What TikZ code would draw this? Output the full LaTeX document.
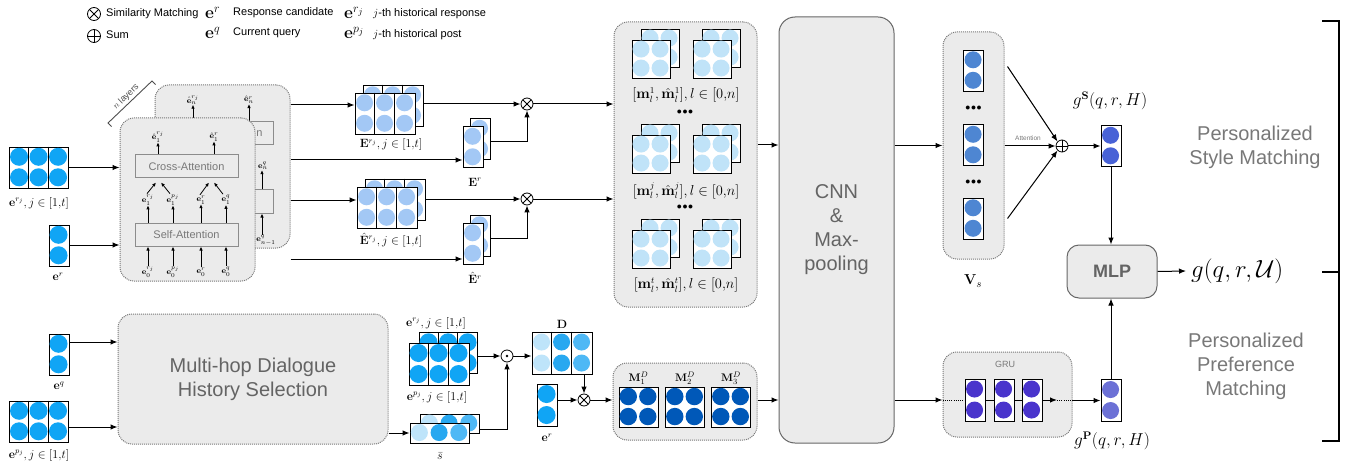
\documentclass[tikz,border=0pt]{standalone}
\usepackage[no-math]{fontspec}
\newfontfamily\hv{Liberation Sans}
\usetikzlibrary{arrows.meta,calc}
\definecolor{cin}{RGB}{16,165,245}
\definecolor{cE}{RGB}{163,200,245}
\definecolor{cM}{RGB}{192,227,248}
\definecolor{cV}{RGB}{78,134,210}
\definecolor{cGS}{RGB}{72,98,214}
\definecolor{cGRU}{RGB}{73,52,204}
\definecolor{cGP}{RGB}{108,113,214}
\definecolor{cMD}{RGB}{0,88,184}
\definecolor{cLa}{RGB}{190,228,250}
\definecolor{cLb}{RGB}{40,168,240}
\definecolor{cLc}{RGB}{78,184,245}
\definecolor{blkfill}{RGB}{235,235,235}
\definecolor{txtgray}{RGB}{100,100,100}
\definecolor{ltgray}{RGB}{120,120,120}
\newcommand\fsz[2]{\fontsize{#1}{#2}\selectfont}
\tikzset{
 arr/.style={line width=1pt,-{Latex[length=7pt,width=5.5pt]}},
 sarr/.style={line width=0.8pt,-{Latex[length=4pt,width=3.5pt]}},
 ln/.style={line width=1pt},
 dotln/.style={line width=1pt,dash pattern=on 1pt off 1.2pt},
 blk/.style={draw=ltgray,fill=blkfill,dash pattern=on 1pt off 1pt,line width=1pt,rounded corners=14pt,inner sep=0pt},
 solidblk/.style={draw=black!60,fill=blkfill,line width=1pt,rounded corners=16pt,inner sep=0pt},
 cell/.style={draw=black,fill=white,line width=0.9pt,inner sep=0pt},
 attbox/.style={draw=black!45,fill=blkfill,line width=1pt,inner sep=0pt,minimum width=103pt,minimum height=23pt,font={\hv\fsz{11}{13}},text=ltgray},
 lbl/.style={inner sep=0pt,font={\fsz{11.5}{13}}},
 tiny/.style={inner sep=0pt,font={\fsz{8.5}{9}}},
 opbase/.style={circle,draw,line width=0.8pt,minimum size=12pt,inner sep=0pt},
 otimesn/.style={opbase,path picture={\draw[line width=0.8pt] (path picture bounding box.north west) -- (path picture bounding box.south east) (path picture bounding box.north east) -- (path picture bounding box.south west);}},
 oplusn/.style={opbase,path picture={\draw[line width=0.8pt] (path picture bounding box.north) -- (path picture bounding box.south) (path picture bounding box.west) -- (path picture bounding box.east);}},
 odotn/.style={opbase,path picture={\fill (path picture bounding box.center) circle[radius=1.4pt];}},
 bigtxt/.style={font={\hv\fsz{20}{24}},text=txtgray,align=center,inner sep=0pt},
}
% name, x, y, cols, rows, cell w, cell h, radius, colour
\newcommand\mat[9]{%
  \node[cell,minimum width={#4*#6pt},minimum height={#5*#7pt}] (#1) at (#2,#3) {};
  \foreach \ci in {1,...,#4}{\foreach \ri in {1,...,#5}{%
    \fill[#9] ($(#1.north west)+({(\ci-0.5)*#6},{(\ri-0.5)*#7})$) circle[radius=#8pt];}}%
}
% name, cols, cell w
\newcommand\seps[3]{%
  \foreach \ci in {2,...,#2}{\draw[line width=0.9pt] ($(#1.north west)+({(\ci-1)*#3},0)$) -- ($(#1.south west)+({(\ci-1)*#3},0)$);}%
}
\begin{document}
\begin{tikzpicture}[x=1pt,y=-1pt]
\useasboundingbox (0,0) rectangle (1348,465);

% ---------- legend
\node[otimesn,minimum size=13pt] (lgA) at (94,14) {};
\node[anchor=west,inner sep=0pt,font={\hv\fsz{11}{13}}] (lgAt) at (106,14) {Similarity Matching};
\node[oplusn,minimum size=13pt] (lgB) at (94,36) {};
\node[anchor=west,inner sep=0pt,font={\hv\fsz{11}{13}}] (lgBt) at (106,35) {Sum};
\node[anchor=west,inner sep=0pt,font={\fsz{18}{18}}] (lgC) at (205,13) {$\mathbf{e}^{r}$};
\node[anchor=west,inner sep=0pt,font={\hv\fsz{11}{13}}] (lgCt) at (233,13) {Response candidate};
\node[anchor=west,inner sep=0pt,font={\fsz{18}{18}}] (lgD) at (205,33) {$\mathbf{e}^{q}$};
\node[anchor=west,inner sep=0pt,font={\hv\fsz{11}{13}}] (lgDt) at (233,33) {Current query};
\node[anchor=west,inner sep=0pt,font={\fsz{18}{18}}] (lgE) at (344,13) {$\mathbf{e}^{r_j}$};
\node[anchor=west,inner sep=0pt,font={\hv\fsz{11}{13}}] (lgEt) at (373,14) {$j$-th historical response};
\node[anchor=west,inner sep=0pt,font={\fsz{18}{18}}] (lgF) at (344,33) {$\mathbf{e}^{p_j}$};
\node[anchor=west,inner sep=0pt,font={\hv\fsz{11}{13}}] (lgFt) at (373,35) {$j$-th historical post};

% ---------- inputs (top)
\mat{inrj}{39}{167.5}{3}{2}{19.5}{20.5}{9}{cin}\seps{inrj}{3}{19.5}
\node[lbl] (inrjl) at (39,203) {$\mathbf{e}^{r_j}, j\in[1{,}t]$};
\mat{inr}{59}{245.5}{1}{2}{20}{20.5}{9}{cin}
\node[lbl] (inrl) at (58,277) {$\mathbf{e}^{r}$};

% ---------- attention blocks: back copy
\node[blk,minimum width=135pt,minimum height=163pt] (back) at (222.5,166.5) {};
\node[attbox] (bcross) at (221.5,133.5) {};
\node[inner sep=0pt,font={\hv\fsz{11}{13}},text=ltgray] (bcrossn) at (259.5,134) {n};
\node[attbox] (bself) at (221.5,201.5) {};
\node[tiny] (bh1) at (193,100) {$\hat{\mathbf{e}}_n^{r_j}$};
\node[tiny] (bh2) at (249,100) {$\hat{\mathbf{e}}_n^{r}$};
\draw[sarr] (bcross.north -| bh1) -- (bh1.south);
\draw[sarr] (bcross.north -| bh2) -- (bh2.south);
\node[tiny] (bq) at (263,166) {$\mathbf{e}_n^{q}$};
\draw[sarr] (bself.north -| 262,0) -- (bq.south -| 262,0);
\node[tiny] (bq0) at (266,240) {$\mathbf{e}_{n-1}^{q}$};
\draw[sarr] (bq0.north -| 262,0) -- (bself.south -| 262,0);

% front copy
\node[blk,minimum width=135pt,minimum height=163pt] (front) at (187.5,199.5) {};
\node[attbox] (cross) at (186.5,166.5) {Cross-Attention};
\node[attbox] (self) at (186.5,234.5) {Self-Attention};
\node[tiny] (h1) at (158,137) {$\hat{\mathbf{e}}_1^{r_j}$};
\node[tiny] (h2) at (214,137) {$\hat{\mathbf{e}}_1^{r}$};
\draw[sarr] (cross.north -| h1) -- (h1.south);
\draw[sarr] (cross.north -| h2) -- (h2.south);
\node[tiny] (m1) at (148,200) {$\mathbf{e}_1^{r_j}$};
\node[tiny] (m2) at (173,200) {$\mathbf{e}_1^{p_j}$};
\node[tiny] (m3) at (201,200) {$\mathbf{e}_1^{r}$};
\node[tiny] (m4) at (226,200) {$\mathbf{e}_1^{q}$};
\foreach \m in {m1,m2,m3,m4}{\draw[sarr] (self.north -| \m) -- (\m.south);}
\draw[sarr] ($(m1.north)+(-1,-1)$) -- ($(cross.south)+(-30.5,4)$);
\draw[sarr] ($(m2.north)+(-3,-1)$) -- ($(cross.south)+(-25.5,4)$);
\draw[sarr] ($(m3.north)+(-1,-1)$) -- ($(cross.south)+(22.5,4)$);
\draw[sarr] ($(m4.north)+(-3,-1)$) -- ($(cross.south)+(27.5,4)$);
\node[tiny] (z1) at (148,272) {$\mathbf{e}_0^{r_j}$};
\node[tiny] (z2) at (173,272) {$\mathbf{e}_0^{p_j}$};
\node[tiny] (z3) at (201,272) {$\mathbf{e}_0^{r}$};
\node[tiny] (z4) at (226,272) {$\mathbf{e}_0^{q}$};
\foreach \m in {z1,z2,z3,z4}{\draw[sarr] ($(\m.north)+(0,-1)$) -- (self.south -| \m);}

% n layers bracket
\coordinate (nl1) at (108,123);
\coordinate (nl2) at (152,81);
\draw[line width=0.9pt,black!70] ($(nl1)+(3.5,3.6)$) -- (nl1) -- (nl2) -- ($(nl2)+(3.5,3.6)$);
\node[inner sep=0pt,rotate=44,font={\hv\fsz{9}{10}},text=black!70] (nll) at (126,97) {$n$ layers};

\draw[arr] (inrj.east) -- (front.west |- inrj.east);
\draw[arr] (inr.east |- 0,245) -- (front.west |- 0,245);

% ---------- E matrices
\mat{Erjb}{393}{105.5}{3}{2}{20}{20.5}{8.5}{cE}\seps{Erjb}{3}{20}
\mat{Erj}{385}{113.5}{3}{2}{20}{20.5}{8.5}{cE}\seps{Erj}{3}{20}
\node[lbl] (Erjl) at (391,145) {$\mathbf{E}^{r_j}, j\in[1{,}t]$};
\mat{Erb}{480}{139}{1}{2}{20}{20.5}{8.5}{cE}
\mat{Er}{473}{147}{1}{2}{20}{20.5}{8.5}{cE}
\node[lbl] (Erl) at (475,182) {$\mathbf{E}^{r}$};
\mat{Ehrjb}{395}{199.5}{3}{2}{20}{20.5}{8.5}{cE}\seps{Ehrjb}{3}{20}
\mat{Ehrj}{387}{207.5}{3}{2}{20}{20.5}{8.5}{cE}\seps{Ehrj}{3}{20}
\node[lbl] (Ehrjl) at (391,240) {$\hat{\mathbf{E}}^{r_j}, j\in[1{,}t]$};
\mat{Ehrb}{480}{235.5}{1}{2}{20}{20.5}{8.5}{cE}
\mat{Ehr}{473}{243.5}{1}{2}{20}{20.5}{8.5}{cE}
\node[lbl] (Ehrl) at (475,278) {$\hat{\mathbf{E}}^{r}$};

\draw[arr] (back.east |- 0,105) -- (Erj.west |- 0,105);
\draw[arr] (back.east |- 0,160) -- (Er.west |- 0,160);
\draw[arr] (back.east |- 0,200) -- (Ehrj.west |- 0,200);
\draw[arr] (back.east |- 0,259) -- (Ehr.west |- 0,259);

\node[otimesn] (oxA) at (527,104) {};
\node[otimesn] (oxB) at (527,199) {};
\draw[arr] (Erjb.east |- oxA) -- (oxA.west);
\draw[arr] (Erb.east |- 0,142) -| (oxA.south);
\draw[arr] (Ehrjb.east |- oxB) -- (oxB.west);
\draw[arr] (Ehrb.east |- 0,238) -| (oxB.south);

% ---------- matching matrices group
\node[blk,minimum width=143pt,minimum height=285pt] (grp) at (685.5,164.5) {};
\draw[arr] (oxA.east) -- (grp.west |- oxA);
\draw[arr] (oxB.east) -- (grp.west |- oxB);
\foreach \r/\yy in {a/59,b/154,c/249}{
  \mat{mL\r b}{660}{\yy-11}{2}{2}{19}{19}{8.5}{cM}
  \mat{mL\r}{651}{\yy}{2}{2}{19}{19}{8.5}{cM}
  \mat{mR\r b}{721}{\yy-11}{2}{2}{19}{19}{8.5}{cM}
  \mat{mR\r}{712}{\yy}{2}{2}{19}{19}{8.5}{cM}
}
\node[lbl,font={\fsz{13.5}{14}}] (mla) at (686,95) {$[\mathbf{m}_l^1, \hat{\mathbf{m}}_l^1], l\in[0{,}n]$};
\node[lbl,font={\fsz{13.5}{14}}] (mlb) at (686,191) {$[\mathbf{m}_l^j, \hat{\mathbf{m}}_l^j], l\in[0{,}n]$};
\node[lbl,font={\fsz{13.5}{14}}] (mlc) at (686,285) {$[\mathbf{m}_l^t, \hat{\mathbf{m}}_l^t], l\in[0{,}n]$};
\node[inner sep=0pt] (dta) at (685,112) {$\bullet\!\bullet\!\bullet$};
\node[inner sep=0pt] (dtb) at (685,207) {$\bullet\!\bullet\!\bullet$};

% ---------- CNN
\node[solidblk,minimum width=115pt,minimum height=426pt,bigtxt] (cnn) at (836.5,230) {CNN\\\&\\Max-\\pooling};
\draw[arr] (grp.east |- 0,145) -- (cnn.west |- 0,145);

% ---------- V_s
\node[blk,minimum width=61pt,minimum height=227pt] (vs) at (973.5,145.5) {};
\draw[arr] (cnn.east |- vs.west) -- (vs.west);
\mat{va}{973.5}{70.5}{1}{2}{20}{20.5}{8.5}{cV}
\mat{vb}{973.5}{145}{1}{2}{20}{20.5}{8.5}{cV}
\mat{vc}{973.5}{218.5}{1}{2}{20}{20.5}{8.5}{cV}
\node[inner sep=0pt] (vda) at (973.5,108) {$\bullet\!\bullet\!\bullet$};
\node[inner sep=0pt] (vdb) at (973.5,182) {$\bullet\!\bullet\!\bullet$};
\node[lbl,font={\fsz{15}{16}}] (vsl) at (973,281) {$\mathbf{V}_s$};
\node[oplusn] (op) at (1062,146) {};
\draw[arr] ($(vs.north east)+(3,35)$) -- (op.north west);
\draw[arr] (vs.east |- op) -- (op.west);
\node[inner sep=0pt,font={\hv\fsz{6.5}{7}},text=ltgray] (attl) at (1028,138) {Attention};
\draw[arr] ($(vs.south east)+(3,-41)$) -- (op.south west);

\mat{gs}{1111}{146}{1}{2}{20}{20.5}{8.5}{cGS}
\draw[arr] (op.east) -- (gs.west);
\node[lbl,font={\fsz{16}{17}}] (gsl) at (1110,101) {$g^{\mathbf{S}}(q,r,H)$};

% ---------- MLP & output
\node[solidblk,rounded corners=12pt,minimum width=90pt,minimum height=53pt,font={\hv\bfseries\fsz{18}{20}},text=txtgray] (mlp) at (1112,271.5) {MLP};
\draw[arr] (gs.south) -- (gs.south |- mlp.north);
\node[anchor=west,inner sep=5pt,font={\fsz{23}{24}}] (out) at (1186,271) {$g(q,r,\mathcal{U})$};
\draw[arr] (mlp.east) -- (out.west);

% ---------- side texts & bracket
\node[bigtxt,text=ltgray] (psm) at (1255,147) {Personalized\\Style Matching};
\node[bigtxt,text=ltgray] (ppm) at (1246,366) {Personalized\\Preference\\Matching};
\coordinate (bra) at (1322,21);
\coordinate (brb) at (1339,21);
\coordinate (brc) at (1339,441);
\coordinate (brd) at (1322,441);
\coordinate (bre) at (1322,272);
\draw[line width=1.1pt] (bra) -- (brb) -- (brc) -- (brd);
\draw[line width=1.1pt] (bre) -- (bre -| brb);

% ---------- bottom inputs
\mat{eq}{59}{354.5}{1}{2}{20}{20.5}{9}{cin}
\node[lbl] (eql) at (59,386) {$\mathbf{e}^{q}$};
\mat{epj}{39}{421.5}{3}{2}{19.5}{20.5}{9}{cin}\seps{epj}{3}{19.5}
\node[lbl] (epjl) at (39,455) {$\mathbf{e}^{p_j}, j\in[1{,}t]$};
\node[blk,minimum width=270pt,minimum height=130pt,bigtxt] (mh) at (253,379) {Multi-hop Dialogue\\History Selection};
\draw[arr] (eq.east |- 0,342) -- (mh.west |- 0,342);
\draw[arr] (epj.east |- 0,427) -- (mh.west |- 0,427);

% history stack
\mat{hb}{448.5}{353}{3}{2}{19.5}{20.5}{9}{cin}\seps{hb}{3}{19.5}
\mat{hf}{439}{364}{3}{2}{20}{21}{9}{cin}\seps{hf}{3}{20}
\node[lbl] (hrl) at (436,323) {$\mathbf{e}^{r_j}, j\in[1{,}t]$};
\node[lbl] (hpl) at (437,397) {$\mathbf{e}^{p_j}, j\in[1{,}t]$};
\node[odotn] (od) at (507,356) {};
\draw[arr] (hb.east |- od) -- (od.west);

% D
\node[cell,minimum width=60pt,minimum height=42pt] (D) at (562,353) {};
\foreach \ci/\cc in {1/cLa,2/cLb,3/cLc}{
  \fill[\cc] ($(D.north west)+({(\ci-0.5)*20},10.5)$) circle[radius=8.5pt];
  \fill[\cc] ($(D.north west)+({(\ci-0.5)*20},31.5)$) circle[radius=8.5pt];}
\seps{D}{3}{20}
\node[lbl,font={\fsz{13}{14}}] (Dl) at (562,324) {$\mathbf{D}$};
\draw[arr] (od.east) -- (D.west |- od);

% s bar
\node[cell,minimum width=59pt,minimum height=19pt] (sb) at (449.5,423.5) {};
\foreach \ci/\cc in {1/cLa,2/cLb,3/cLc}{\fill[\cc] ($(sb.north west)+({(\ci-0.5)*19.7},9.5)$) circle[radius=8.5pt];}
\node[cell,minimum width=59pt,minimum height=20pt] (sf) at (439.5,433) {};
\foreach \ci/\cc in {1/cLa,2/cLb,3/cLc}{\fill[\cc] ($(sf.north west)+({(\ci-0.5)*19.7},10)$) circle[radius=8.5pt];}
\node[lbl] (sbl) at (440,456) {$\bar{s}$};
\draw[arr] (mh.east |- sf) -- (sf.west);
\draw[arr] (sb.east |- 0,429) -| (od.south);

% otimes 3 and e^r
\node[otimesn] (oxC) at (584,400) {};
\draw[arr] (D.south -| oxC) -- (oxC.north);
\mat{erb}{547}{405}{1}{2}{20}{21}{9}{cin}
\node[lbl] (erbl) at (547,438) {$\mathbf{e}^{r}$};
\draw[arr] (erb.east |- oxC) -- (oxC.west);

% M^D group
\node[blk,minimum width=144pt,minimum height=77pt] (mdg) at (685,401.5) {};
\draw[arr] (oxC.east) -- (mdg.west |- oxC);
\mat{mdA}{638.5}{407}{2}{2}{19.5}{20}{8.7}{cMD}
\mat{mdB}{685}{407}{2}{2}{19.5}{20}{8.7}{cMD}
\mat{mdC}{731}{407}{2}{2}{19.5}{20}{8.7}{cMD}
\node[lbl,font={\fsz{11}{12}}] (mdAl) at (638.5,378) {$\mathbf{M}_1^{D}$};
\node[lbl,font={\fsz{11}{12}}] (mdBl) at (685,378) {$\mathbf{M}_2^{D}$};
\node[lbl,font={\fsz{11}{12}}] (mdCl) at (731,378) {$\mathbf{M}_3^{D}$};
\draw[arr] (mdg.east |- 0,400) -- (cnn.west |- 0,400);

% ---------- GRU
\node[blk,minimum width=129pt,minimum height=85pt] (gru) at (1007.5,394.5) {};
\node[inner sep=0pt,font={\hv\fsz{9}{10}},text=ltgray] (grul) at (1005,364) {GRU};
\draw[arr] (cnn.east |- 0,400) -- (gru.west |- 0,400);
\mat{ga}{975}{400}{1}{2}{20}{21}{8.5}{cGRU}
\mat{gb}{1004}{400}{1}{2}{20}{21}{8.5}{cGRU}
\mat{gc}{1032}{400}{1}{2}{20}{21}{8.5}{cGRU}
\draw[dotln] (gru.west |- ga) -- (ga.west);
\draw[ln] (ga.east) -- (gb.west);
\draw[ln] (gb.east) -- (gc.west);
\coordinate (gtip) at (1057,400);
\draw[arr] (gc.east) -- (gtip);
\draw[dotln] (gtip) -- (gru.east |- gtip);
\mat{gp}{1111}{400.5}{1}{2}{20}{21}{8.5}{cGP}
\draw[arr] (gru.east |- gp.west) -- (gp.west);
\draw[arr] (gp.north) -- (gp.north |- mlp.south);
\node[lbl,font={\fsz{16}{17}}] (gpl) at (1112,441) {$g^{\mathbf{P}}(q,r,H)$};
\end{tikzpicture}
\end{document}
